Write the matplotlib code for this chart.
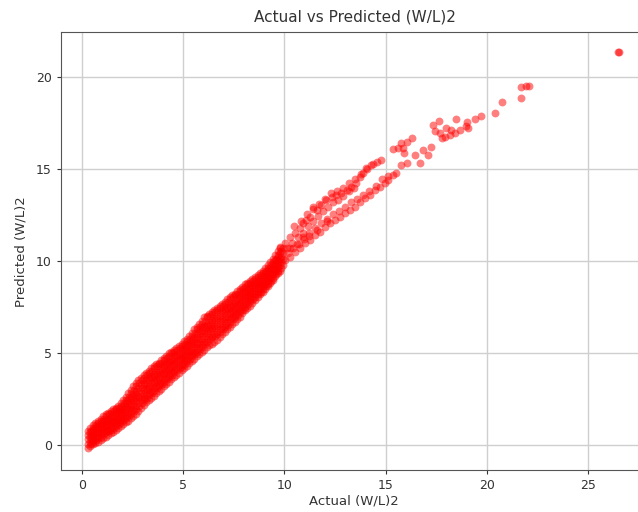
import matplotlib
matplotlib.use("Agg")
import matplotlib.pyplot as plt

# ---- data ----
# dense main band (0 < actual < 10): actual positions and five tracks of predicted values across the band
band_actual = [0.3, 0.425, 0.55, 0.675, 0.8, 0.925, 1.05, 1.175, 1.3, 1.425, 1.55, 1.675,
               1.8, 1.925, 2.05, 2.175, 2.3, 2.425, 2.55, 2.675, 2.8, 2.925, 3.05, 3.175,
               3.3, 3.425, 3.55, 3.675, 3.8, 3.925, 4.05, 4.175, 4.3, 4.425, 4.55, 4.675,
               4.8, 4.925, 5.05, 5.175, 5.3, 5.425, 5.55, 5.675, 5.8, 5.925, 6.05, 6.175,
               6.3, 6.425, 6.55, 6.675, 6.8, 6.925, 7.05, 7.175, 7.3, 7.425, 7.55, 7.675,
               7.8, 7.925, 8.05, 8.175, 8.3, 8.425, 8.55, 8.675, 8.8, 8.925, 9.05, 9.175,
               9.3, 9.425, 9.55, 9.675, 9.8]
# second set of actual positions for the points lying between the tracks
band_actual_b = [0.45, 0.575, 0.7, 0.825, 0.95, 1.075, 1.2, 1.325, 1.45, 1.575, 1.7, 1.825,
                 1.95, 2.075, 2.2, 2.325, 2.45, 2.575, 2.7, 2.825, 2.95, 3.075, 3.2, 3.325,
                 3.45, 3.575, 3.7, 3.825, 3.95, 4.075, 4.2, 4.325, 4.45, 4.575, 4.7, 4.825,
                 4.95, 5.075, 5.2, 5.325, 5.45, 5.575, 5.7, 5.825, 5.95, 6.075, 6.2, 6.325,
                 6.45, 6.575, 6.7, 6.825, 6.95, 7.075, 7.2, 7.325, 7.45, 7.575, 7.7, 7.825,
                 7.95, 8.075, 8.2, 8.325, 8.45, 8.575, 8.7, 8.825, 8.95, 9.075, 9.2, 9.325,
                 9.45, 9.575, 9.7, 9.825, 9.95]
band_lower = [-0.15, -0.05, 0.05, 0.13, 0.2, 0.3, 0.4, 0.48, 0.55, 0.65, 0.75, 0.85,
              0.95, 1.05, 1.15, 1.25, 1.35, 1.48, 1.6, 1.73, 1.85, 2.03, 2.2, 2.33,
              2.45, 2.58, 2.7, 2.83, 2.95, 3.08, 3.2, 3.33, 3.45, 3.58, 3.7, 3.83,
              3.95, 4.08, 4.2, 4.33, 4.45, 4.58, 4.7, 4.83, 4.95, 5.08, 5.2, 5.33,
              5.45, 5.53, 5.6, 5.75, 5.9, 6.03, 6.15, 6.3, 6.45, 6.58, 6.7, 6.85,
              7.0, 7.18, 7.35, 7.48, 7.6, 7.75, 7.9, 8.05, 8.2, 8.35, 8.5, 8.65,
              8.8, 9.0, 9.2, 9.35, 9.5]
band_low_mid = [0.09, 0.2, 0.31, 0.4, 0.48, 0.59, 0.7, 0.78, 0.85, 0.95, 1.05, 1.15,
                1.25, 1.36, 1.48, 1.6, 1.73, 1.87, 2.0, 2.14, 2.28, 2.44, 2.6, 2.73,
                2.85, 2.98, 3.1, 3.22, 3.34, 3.47, 3.59, 3.72, 3.84, 3.96, 4.08, 4.2,
                4.31, 4.44, 4.56, 4.7, 4.83, 4.97, 5.1, 5.24, 5.36, 5.5, 5.64, 5.76,
                5.88, 5.96, 6.04, 6.18, 6.33, 6.45, 6.56, 6.71, 6.85, 6.97, 7.09, 7.23,
                7.38, 7.54, 7.7, 7.82, 7.94, 8.08, 8.21, 8.35, 8.49, 8.64, 8.79, 8.94,
                9.09, 9.29, 9.49, 9.65, 9.81]
band_middle = [0.33, 0.45, 0.58, 0.67, 0.75, 0.88, 1.0, 1.08, 1.15, 1.25, 1.35, 1.45,
               1.55, 1.68, 1.8, 1.95, 2.1, 2.26, 2.4, 2.56, 2.7, 2.86, 3.0, 3.13,
               3.25, 3.38, 3.5, 3.62, 3.73, 3.86, 3.98, 4.11, 4.23, 4.34, 4.45, 4.57,
               4.68, 4.81, 4.93, 5.07, 5.2, 5.36, 5.5, 5.64, 5.78, 5.93, 6.08, 6.19,
               6.3, 6.39, 6.48, 6.62, 6.75, 6.87, 6.98, 7.12, 7.25, 7.37, 7.48, 7.62,
               7.75, 7.91, 8.05, 8.17, 8.28, 8.4, 8.53, 8.65, 8.78, 8.93, 9.08, 9.23,
               9.38, 9.58, 9.78, 9.95, 10.13]
band_up_mid = [0.56, 0.7, 0.84, 0.93, 1.03, 1.16, 1.3, 1.38, 1.45, 1.55, 1.65, 1.75,
               1.85, 1.99, 2.13, 2.3, 2.48, 2.64, 2.8, 2.97, 3.13, 3.27, 3.4, 3.53,
               3.65, 3.78, 3.9, 4.01, 4.11, 4.24, 4.36, 4.49, 4.61, 4.72, 4.83, 4.93,
               5.04, 5.17, 5.29, 5.43, 5.58, 5.74, 5.9, 6.05, 6.19, 6.36, 6.51, 6.62,
               6.73, 6.82, 6.91, 7.05, 7.18, 7.28, 7.39, 7.52, 7.65, 7.76, 7.86, 8.0,
               8.13, 8.27, 8.4, 8.51, 8.61, 8.73, 8.84, 8.95, 9.06, 9.21, 9.36, 9.51,
               9.66, 9.86, 10.06, 10.25, 10.44]
band_upper = [0.8, 0.95, 1.1, 1.2, 1.3, 1.45, 1.6, 1.68, 1.75, 1.85, 1.95, 2.05,
              2.15, 2.3, 2.45, 2.65, 2.85, 3.03, 3.2, 3.38, 3.55, 3.68, 3.8, 3.93,
              4.05, 4.18, 4.3, 4.4, 4.5, 4.63, 4.75, 4.88, 5.0, 5.1, 5.2, 5.3,
              5.4, 5.53, 5.65, 5.8, 5.95, 6.13, 6.3, 6.45, 6.6, 6.78, 6.95, 7.05,
              7.15, 7.25, 7.35, 7.48, 7.6, 7.7, 7.8, 7.93, 8.05, 8.15, 8.25, 8.38,
              8.5, 8.63, 8.75, 8.85, 8.95, 9.05, 9.15, 9.25, 9.35, 9.5, 9.65, 9.8,
              9.95, 10.15, 10.35, 10.55, 10.75]

# upper branch (actual > 10)
upper_actual = [9.78, 10.03, 10.27, 10.52, 10.77, 10.93, 11.09, 11.26, 11.42, 11.59,
                11.83, 12.08, 12.33, 12.57, 12.82, 13.07, 13.31, 13.56, 13.72, 13.89,
                14.05, 14.3, 14.55, 14.79, 15.37, 15.61, 15.86, 15.78, 16.03, 16.32,
                15.89, 10.15, 10.4, 10.65, 10.9, 11.15, 11.4, 11.65, 11.9, 12.15,
                12.4, 12.65, 12.9, 13.2, 13.45,
                10.5, 10.8, 11.1, 11.4, 11.7, 12.0, 12.3, 12.6, 12.9, 13.2, 13.5,
                13.8, 14.1, 14.4]
upper_predicted = [10.79, 10.98, 11.34, 11.52, 11.79, 12.07, 12.25, 12.43, 12.97, 12.79,
                   13.06, 13.33, 13.51, 13.6, 13.7, 13.87, 14.05, 14.24, 14.6, 14.78,
                   15.05, 15.23, 15.41, 15.5, 16.09, 16.14, 16.14, 16.41, 16.5, 16.68,
                   15.87, 10.7, 11.0, 11.3, 11.55, 11.9, 12.2, 12.45, 12.75, 12.95,
                   13.2, 13.35, 13.55, 13.8, 14.0,
                   11.9, 12.2, 12.55, 12.85, 13.1, 13.4, 13.7, 13.85, 14.0, 14.25, 14.5,
                   14.75, 15.0, 15.3]

# lower branch (actual > 10)
lower_actual = [10.03, 10.27, 10.52, 10.77, 11.01, 11.26, 11.5, 11.75, 12.0, 12.25,
                12.49, 12.74, 12.98, 13.23, 13.48, 13.72, 13.97, 14.22, 14.46, 14.71,
                14.96, 15.12, 15.37, 15.53, 15.78, 16.03, 16.44, 16.68, 17.09, 16.84,
                17.26, 10.2, 10.45, 10.7, 10.95, 11.2, 11.6, 12.1,
                10.3, 10.6, 10.9, 11.2, 11.5, 11.8, 12.1, 12.4, 12.7, 13.0, 13.3,
                13.6, 13.9, 14.2, 14.5, 14.8, 15.1]
lower_predicted = [10.07, 10.25, 10.52, 10.71, 10.98, 11.16, 11.43, 11.61, 11.88, 12.07,
                   12.24, 12.42, 12.61, 12.79, 12.97, 13.24, 13.42, 13.6, 13.88, 14.05,
                   14.24, 14.42, 14.69, 14.78, 15.23, 15.33, 15.78, 15.36, 15.78, 16.05,
                   16.23, 10.45, 10.7, 10.95, 11.2, 11.4, 11.7, 12.2,
                   10.7, 10.95, 11.3, 11.55, 11.8, 12.1, 12.3, 12.55, 12.75, 12.95, 13.2,
                   13.4, 13.6, 13.85, 14.1, 14.45, 14.65]

# sparse upper tail
tail_actual = [17.34, 17.63, 17.42, 17.67, 17.8, 17.91, 18.0, 18.16, 18.24, 18.41,
               18.46, 18.65, 18.98, 19.06, 19.01, 19.39, 19.72, 20.38, 20.74, 21.66,
               21.7, 21.94, 22.1, 26.46, 26.54]
tail_predicted = [17.41, 17.63, 17.08, 16.96, 16.68, 16.77, 17.23, 16.86, 17.14, 16.99,
                  17.75, 17.14, 17.35, 17.23, 17.59, 17.73, 17.91, 18.08, 18.64, 18.89,
                  19.49, 19.54, 19.53, 21.36, 21.36]

# ---- assemble ----
actual = []
predicted = []
for track in (band_lower, band_low_mid, band_middle, band_up_mid, band_upper):
    actual.extend(band_actual)
    predicted.extend(track)
for track in (band_low_mid, band_middle, band_up_mid, band_upper):
    actual.extend(band_actual_b)
    predicted.extend(track)
for xs, ys in [(upper_actual, upper_predicted), (lower_actual, lower_predicted),
               (tail_actual, tail_predicted)]:
    actual.extend(xs)
    predicted.extend(ys)

W, H = 638, 512
fig = plt.figure(figsize=(W / 100, H / 100), dpi=100)
left_px, right_px, top_px, bottom_px = 60.7, 650.0, 32.3, 470.0
ax = fig.add_axes([left_px / W, 1 - bottom_px / H, (right_px - left_px) / W,
                   (bottom_px - top_px) / H])

ax.scatter(actual, predicted, color="red", alpha=0.5, s=32, linewidths=0)
ax.set_xlim(-1.04, 28.05)
ax.set_ylim(-1.34, 22.45)
ax.set_xticks([0, 5, 10, 15, 20, 25])
ax.set_yticks([0, 5, 10, 15, 20])
ax.grid(True, color="#cfcfcf", linewidth=1.0)
ax.set_axisbelow(True)

txt = "#333333"
ax.tick_params(labelsize=9, colors=txt, length=3)
for sp in ax.spines.values():
    sp.set_color("#555555")
ax.set_title("Actual vs Predicted (W/L)2", fontsize=11, color=txt, pad=8)
ax.set_xlabel("Actual (W/L)2", fontsize=9.5, color=txt, labelpad=2)
ax.set_ylabel("Predicted (W/L)2", fontsize=9.5, color=txt, labelpad=6)
ax.xaxis.label.set_position(((353.5 - left_px) / (right_px - left_px), 0))

fig.savefig("out.png", dpi=100)
